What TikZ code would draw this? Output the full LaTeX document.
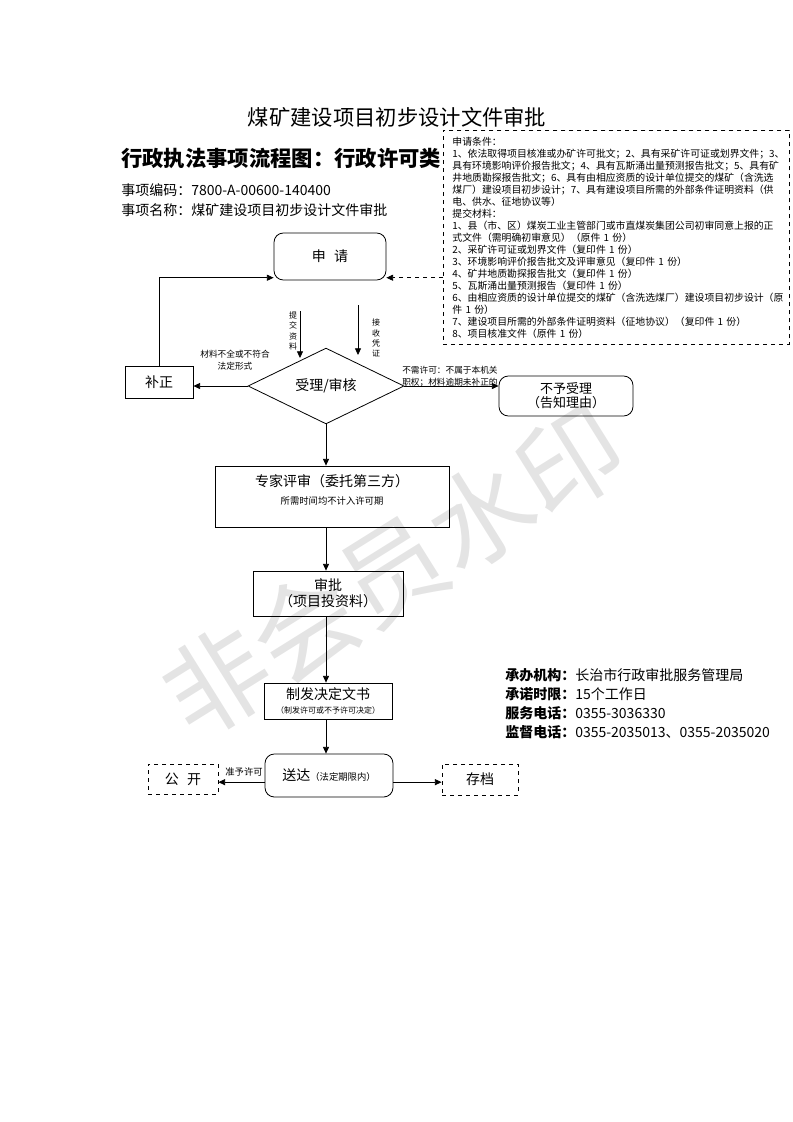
\documentclass[tikz,border=0pt]{standalone}
\usepackage{fontspec}
\setmainfont{Noto Sans CJK SC}
\usetikzlibrary{shapes.geometric, arrows.meta, positioning, calc}
\definecolor{markgray}{RGB}{228, 228, 228}

\begin{document}
\begin{tikzpicture}[x=0.75pt, y=-0.75pt,
  box/.style={draw, line width=0.6pt, font=\fontsize{10.5}{12}\selectfont, align=center, inner sep=1pt},
  rbox/.style={box, rounded corners=7pt},
  dbox/.style={box, dashed},
  arr/.style={-{Triangle[length=5pt, width=4.5pt]}, line width=0.6pt},
  note/.style={font=\fontsize{6.5}{9}\selectfont, align=center, inner sep=0pt},
  vnote/.style={font=\fontsize{6}{7.6}\selectfont, align=center, inner sep=0pt},
  info/.style={font=\fontsize{10.5}{14.25}\selectfont, align=left, anchor=west, inner sep=0pt}]
  \useasboundingbox (0,0) rectangle (793,1122);

  % ===== Watermark =====
  \node[rotate=32, text=markgray, font=\fontsize{78}{78}\selectfont] (mark) at (393, 571) {非会员水印};

  % ===== Header =====
  \node[font=\fontsize{16}{18}\selectfont] (title) at (397, 117) {煤矿建设项目初步设计文件审批};
  \node[font=\fontsize{16}{18}\selectfont\bfseries, anchor=west, inner sep=0pt] (kind) at (121, 158) {行政执法事项流程图：行政许可类};
  \node[info] (code) at (121, 190) {事项编码：7800-A-00600-140400};
  \node[info] (name) at (121, 210) {事项名称：煤矿建设项目初步设计文件审批};

  % Conditions and materials
  \node[draw, dashed, line width=0.6pt, anchor=north west, text width=246pt, minimum height=160.5pt,
        inner xsep=6.75pt, inner ysep=3pt, align=left, font=\fontsize{7.4}{9}\selectfont] (cond) at (443, 130) {
    申请条件：\\
    1、依法取得项目核准或办矿许可批文；2、具有采矿许可证或划界文件；3、\\
    具有环境影响评价报告批文；4、具有瓦斯涌出量预测报告批文；5、具有矿\\
    井地质勘探报告批文；6、具有由相应资质的设计单位提交的煤矿（含洗选\\
    煤厂）建设项目初步设计；7、具有建设项目所需的外部条件证明资料（供\\
    电、供水、征地协议等）\\
    提交材料：\\
    1、县（市、区）煤炭工业主管部门或市直煤炭集团公司初审同意上报的正\\
    式文件（需明确初审意见）（原件 1 份）\\
    2、采矿许可证或划界文件（复印件 1 份）\\
    3、环境影响评价报告批文及评审意见（复印件 1 份）\\
    4、矿井地质勘探报告批文（复印件 1 份）\\
    5、瓦斯涌出量预测报告（复印件 1 份）\\
    6、由相应资质的设计单位提交的煤矿（含洗选煤厂）建设项目初步设计（原\\
    件 1 份）\\
    7、建设项目所需的外部条件证明资料（征地协议）（复印件 1 份）\\
    8、项目核准文件（原件 1 份）};

  % ===== Flow =====
  \node[rbox, minimum width=84pt, minimum height=35.25pt] (apply) at (330, 256.5) {申\hspace{0.6em}请};
  \node[diamond, draw, line width=0.6pt, minimum width=117pt, minimum height=55.5pt, inner sep=0pt,
        font=\fontsize{10.5}{12}\selectfont] (check) at (326, 386) {受理/审核};
  \node[box, minimum width=51pt, minimum height=24pt] (fix) at (159, 382) {补正};
  \node[rbox, minimum width=100.5pt, minimum height=30pt, font=\fontsize{9.75}{10.5}\selectfont] (reject) at (566, 396) {不予受理\\（告知理由）};

  \node[box, minimum width=175.5pt, minimum height=45.75pt] (expert) at (332, 496.5) {};
  \node[font=\fontsize{10.5}{12}\selectfont] (expertT) at (332, 481) {专家评审（委托第三方）};
  \node[font=\fontsize{7}{8}\selectfont] (expertN) at (332, 501) {所需时间均不计入许可期};

  \node[box, minimum width=112.5pt, minimum height=33.75pt] (approve) at (328, 593.5) {审批\\（项目投资料）};
  \node[box, minimum width=96pt, minimum height=27pt] (issue) at (328, 701) {制发决定文书\\[-1pt]{\fontsize{6}{7}\selectfont（制发许可或不予许可决定）}};
  \node[rbox, minimum width=96pt, minimum height=32.25pt] (deliver) at (329, 775.5) {送达{\fontsize{7}{8}\selectfont（法定期限内）}};
  \node[dbox, minimum width=52.5pt, minimum height=22.5pt] (public) at (183, 779) {公\hspace{0.6em}开};
  \node[dbox, minimum width=57pt, minimum height=23.25pt] (archive) at (480, 779.5) {存档};

  % Arrows
  \coordinate (subA) at (300, 311);
  \coordinate (subB) at (300, 358);
  \coordinate (rcvA) at (358, 305);
  \coordinate (rcvB) at (358, 355);
  \coordinate (applyL) at ([yshift=2pt]apply.south west);
  \coordinate (applyR) at ([yshift=2pt]apply.south east);
  \draw[arr] (subA) -- (subB);
  \draw[arr] (rcvA) -- (rcvB);
  \node[vnote] (subL) at (293, 331) {提\\交\\资\\料};
  \node[vnote] (rcvL) at (376, 338) {接\\收\\凭\\证};
  \draw[arr, dashed] (cond.west |- applyR) -- (applyR);

  \draw[arr] (check.west) -- (check.west -| fix.east);
  \node[note] (fixL) at (235, 360) {材料不全或不符合\\法定形式};
  \draw[arr] (fix.north) |- (applyL);

  \draw[arr] (check.east) -- (check.east -| reject.west);
  \node[note, anchor=west, align=left] (rejectL) at (402, 377) {不需许可：不属于本机关\\职权；材料逾期未补正的};

  \draw[arr] (check.south) -- (check.south |- expert.north);
  \draw[arr] (expert.south -| check.south) -- (check.south |- approve.north);
  \draw[arr] (approve.south -| check.south) -- (check.south |- issue.north);
  \draw[arr] (issue.south -| check.south) -- (check.south |- deliver.north);

  \draw[arr] ([yshift=-5pt]deliver.west) -- ([yshift=-5pt]deliver.west -| public.east);
  \node[note, font=\fontsize{7}{8}\selectfont] (grantL) at (244, 772) {准予许可};
  \draw[arr] ([yshift=-5pt]deliver.east) -- ([yshift=-5pt]deliver.east -| archive.west);

  % ===== Office info =====
  \node[info] (office) at (505, 703.5) {\textbf{承办机构：}长治市行政审批服务管理局\\
    \textbf{承诺时限：}15个工作日\\
    \textbf{服务电话：}0355-3036330\\
    \textbf{监督电话：}0355-2035013、0355-2035020};
\end{tikzpicture}
\end{document}
